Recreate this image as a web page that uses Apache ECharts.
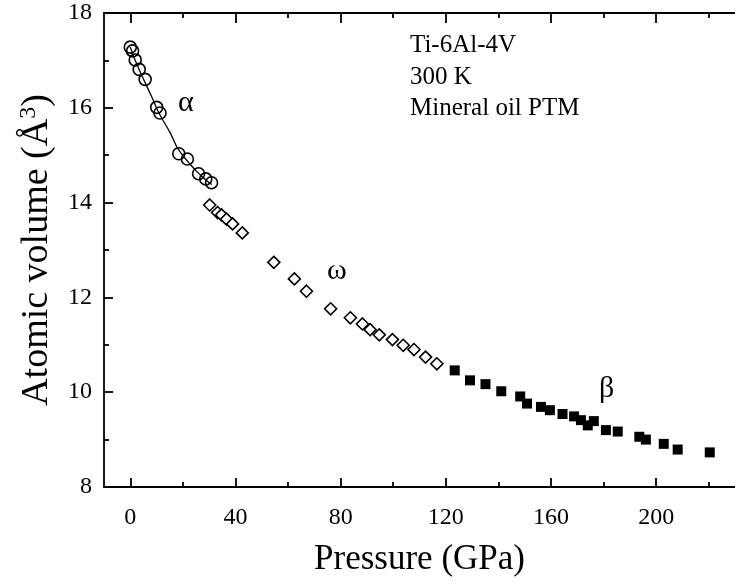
<!DOCTYPE html>
<html>
<head>
<meta charset="utf-8">
<script src="https://cdn.jsdelivr.net/npm/echarts@6/dist/echarts.min.js"></script>
<style>html,body{margin:0;padding:0;background:#fff}#c{width:735px;height:583px}</style>
</head>
<body>
<div id="c"></div>
<script>
// Data
const alphaPts = [[0,17.28],[0.87,17.20],[1.88,17.01],[3.39,16.81],[5.65,16.60],[10.05,16.01],[11.3,15.89],[18.44,15.03],[21.7,14.92],[25.97,14.61],[28.7,14.50],[30.9,14.42]];
const alphaFit = [[0,17.28],[2,16.98],[4.9,16.62],[8.4,16.20],[10.9,15.89],[15.3,15.46],[18.4,15.11],[24.7,14.69],[29.1,14.46],[31,14.38]];
const omegaPts = [[30.2,13.95],[33.2,13.79],[34.7,13.74],[36.6,13.65],[38.9,13.55],[42.6,13.36],[54.6,12.74],[62.4,12.39],[67.0,12.13],[76.2,11.76],[83.7,11.57],[88.3,11.44],[91.2,11.32],[94.7,11.21],[99.7,11.11],[103.8,10.99],[107.9,10.90],[112.3,10.74],[116.6,10.60]];
const betaPts = [[123.4,10.46],[129.2,10.25],[135.1,10.17],[141.1,10.02],[148.3,9.91],[150.9,9.76],[156.2,9.69],[159.6,9.62],[164.4,9.54],[168.8,9.49],[171.4,9.41],[174.0,9.30],[176.3,9.39],[180.9,9.20],[185.4,9.17],[193.6,9.06],[196.1,9.00],[202.9,8.91],[208.2,8.79],[220.4,8.73]];
const xMajor = [0,40,80,120,160,200];
const xMinor = [20,60,100,140,180,220];
const yMajor = [8,10,12,14,16,18];
const yMinor = [9,11,13,15,17];
const annotations = ['Ti-6Al-4V','300 K','Mineral oil PTM'];

const FONT = '"Liberation Serif","Times New Roman",serif';
const chart = echarts.init(document.getElementById('c'), null, {renderer:'canvas'});
const lineStyle = {color:'#000', width:1.8};
function xAx(pos, ticks, len, labels, showLine){
  return {
    type:'value', position:pos, min:-10, max:230, gridIndex:0,
    axisLine:{show:showLine, onZero:false, lineStyle:lineStyle},
    axisTick:{show:true, inside:true, length:len, customValues:ticks, lineStyle:{color:'#000',width:1.8}},
    axisLabel:{show:labels, customValues:ticks, margin:19, color:'#000', fontFamily:FONT, fontSize:24},
    splitLine:{show:false}
  };
}
function yAx(ticks, len, labels, showLine){
  return {
    type:'value', position:'left', min:8, max:18, gridIndex:0,
    axisLine:{show:showLine, onZero:false, lineStyle:lineStyle},
    axisTick:{show:true, inside:true, length:len, customValues:ticks, lineStyle:{color:'#000',width:1.8}},
    minorTick:{show:false},
    axisLabel:{show:labels, customValues:ticks, margin:12, color:'#000', fontFamily:FONT, fontSize:24},
    splitLine:{show:false}
  };
}
const option = {
  animation:false,
  backgroundColor:'#fff',
  grid:{left:104, top:13, width:638, bottom:96, containLabel:false},
  xAxis:[
    Object.assign(xAx('bottom', xMajor, 9, true, true), {
      name:'Pressure (GPa)', nameLocation:'middle', nameGap:55,
      nameTextStyle:{color:'#000', fontFamily:FONT, fontSize:35}
    }),
    xAx('bottom', xMinor, 5, false, false),
    xAx('top', xMajor, 10, false, true),
    xAx('top', xMinor, 5, false, false)
  ],
  yAxis:[
    Object.assign(yAx(yMajor, 9, true, true), {
      name:'Atomic volume (Å{sup|3})', nameLocation:'middle', nameGap:47,
      nameTextStyle:{color:'#000', fontFamily:FONT, fontSize:38,
        rich:{sup:{fontFamily:FONT, fontSize:24, verticalAlign:'top', padding:[0,0,16,0], color:'#000'}}}
    }),
    yAx(yMinor, 5, false, false)
  ],
  series:[
    {type:'line', data:alphaFit, smooth:0.4, showSymbol:false, symbol:'none', lineStyle:{color:'#000', width:1.3}, z:2, silent:true},
    {type:'scatter', data:alphaPts, symbol:'circle', symbolSize:12, itemStyle:{color:'rgba(255,255,255,0)', borderColor:'#000', borderWidth:1.6, opacity:1}, z:3},
    {type:'scatter', data:omegaPts, symbol:'diamond', symbolSize:12, itemStyle:{color:'#fff', borderColor:'#000', borderWidth:1.6, opacity:1}, z:3},
    {type:'scatter', data:betaPts, symbol:'rect', symbolSize:10, itemStyle:{color:'#000', opacity:1}, z:3}
  ],
  graphic:[
    {type:'text', left:410, top:33, style:{text:annotations[0], font:'25px '+FONT, fill:'#000'}},
    {type:'text', left:410, top:65, style:{text:annotations[1], font:'25px '+FONT, fill:'#000'}},
    {type:'text', left:410, top:96, style:{text:annotations[2], font:'25px '+FONT, fill:'#000'}},
    {type:'text', left:178, top:88, style:{text:'α', font:'30px '+FONT, fill:'#000'}},
    {type:'text', left:327, top:256, style:{text:'ω', font:'30px '+FONT, fill:'#000'}},
    {type:'text', left:599, top:374, style:{text:'β', font:'30px '+FONT, fill:'#000'}}
  ]
};
chart.setOption(option);
</script>
</body>
</html>
